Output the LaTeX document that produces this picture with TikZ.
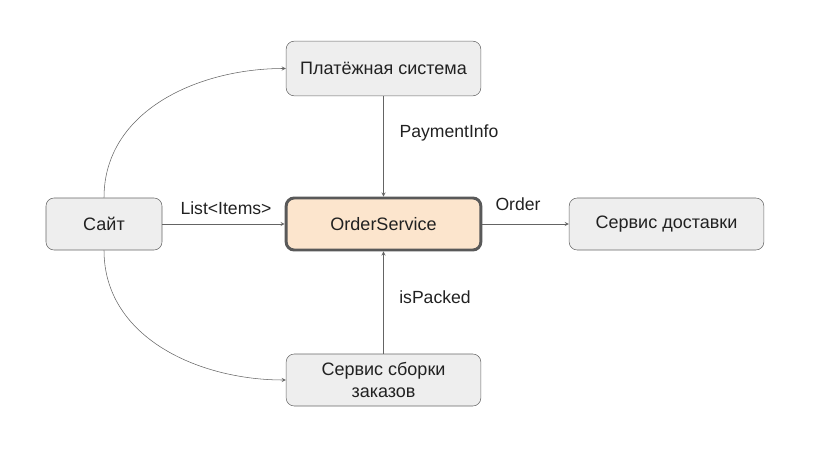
\documentclass[tikz,border=0pt]{standalone}
\usepackage{fontspec}
\setmainfont{Liberation Sans}
\usepackage{tikz}
\usetikzlibrary{arrows, positioning}
\definecolor{boxfill}{RGB}{238, 238, 238}
\definecolor{boxline}{RGB}{102, 102, 102}
\definecolor{corefill}{RGB}{252, 229, 205}
\definecolor{coreline}{RGB}{89, 89, 89}
\definecolor{linkgray}{RGB}{100, 100, 100}
\definecolor{textdark}{RGB}{33, 33, 33}

\begin{document}
\begin{tikzpicture}[
    x=0.75pt, y=-0.75pt,
    service/.style={rectangle, draw=boxline, fill=boxfill, rounded corners=6pt, minimum width=146pt, minimum height=39pt, align=center, font=\fontsize{13.5}{16}\selectfont, text=textdark},
    core/.style={service, fill=corefill, draw=coreline, line width=2.2pt},
    arrow/.style={->, >=stealth, thin, draw=linkgray},
    tag/.style={font=\fontsize{13.2}{15}\selectfont, text=textdark}
]
    \useasboundingbox (0, 0) rectangle (823, 449);

    % Site
    \node[service, minimum width=87pt] (site) at (104, 224) {Сайт};

    % Services
    \node[service, minimum height=41pt] (payment) at (383.5, 68.5) {Платёжная система};
    \node[core] (order) at (383.5, 224) {OrderService};
    \node[service] (delivery) at (666.5, 224) {Сервис доставки};
    \node[service] (packing) at (383.5, 380) {Сервис сборки\\заказов};

    % Arrows from site
    \draw[arrow] (site.north) to[out=90, in=180] (payment.west);
    \draw[arrow] (site.south) to[out=-90, in=180] (packing.west);
    \draw[arrow] (site) -- (order);

    % Arrows to and from order service
    \draw[arrow] (payment) -- (order);
    \draw[arrow] (packing) -- (order);
    \draw[arrow] (order) -- (delivery);

    % Labels
    \node[tag] (items) at (226, 208) {List<Items>};
    \node[tag] (ordertag) at (518, 204) {Order};
    \node[tag] (paytag) at (449, 133) {PaymentInfo};
    \node[tag] (packtag) at (435, 297) {isPacked};

\end{tikzpicture}
\end{document}
